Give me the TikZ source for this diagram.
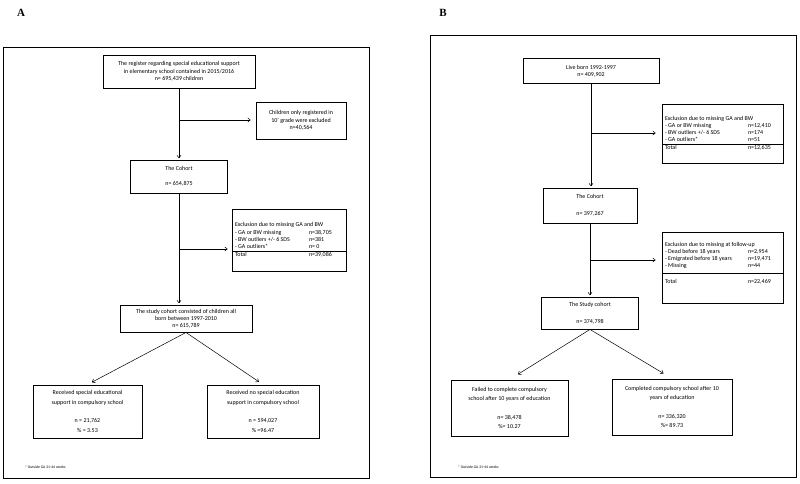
\documentclass[tikz,border=0pt]{standalone}
\usepackage{fontspec}
\setmainfont{Carlito}
\newfontfamily\labelfont{Liberation Serif}
\usetikzlibrary{arrows.meta}
\newcommand{\ft}{\fontsize{6}{7.2}\selectfont}
\newcommand{\fb}{\fontsize{6}{9.5}\selectfont}
\tikzset{box/.style={draw,line width=.9pt,align=center,font=\ft,inner sep=0pt},
  arr/.style={line width=.5pt,-{To[length=3pt,width=4.5pt]}},
  frame/.style={line width=.8pt},
  note/.style={font=\fontsize{3.8}{4}\selectfont,anchor=west,inner sep=0pt}}

\begin{document}
\begin{tikzpicture}[x=1pt,y=-1pt]
\useasboundingbox (0,0) rectangle (800,484);
\fill[white] (0,0) rectangle (800,484);
% panel A
\node[font=\labelfont\bfseries\fontsize{11}{12}\selectfont] (labA) at (21,13) {A};
\draw[frame] (3,47) rectangle (369,478);
\node[box,minimum width=152pt,minimum height=33pt] (regA) at (179,71.5) {The register regarding special educational support\\in elementary school contained in 2015/2016\\n= 695,439 children};
\node[box,minimum width=90pt,minimum height=37pt] (kidsA) at (301,120.5) {Children only registered in\\10' grade were excluded\\n=40,564};
\node[box,minimum width=97pt,minimum height=33pt] (cohA) at (179,176.5) {The Cohort\\[8pt]n= 654,875};
\node[box,minimum height=62pt] (exA) at (289,240) {\begin{tabular}{@{\hspace{3pt}}p{74pt}@{}p{37pt}@{}}
\multicolumn{2}{@{\hspace{3pt}}l@{}}{Exclusion due to missing GA and BW}\\
- GA or BW missing & n=38,705\\
- BW outliers +/- 6 SDS & n=381\\
- GA outliers* & n= 0\\ \hline
Total & n=39,086
\end{tabular}};
\node[box,minimum width=132pt,minimum height=27pt] (studyA) at (186,318.5) {The study cohort consisted of children all\\born between 1997-2010\\n= 615,789};
\node[box,font=\fb,minimum width=109pt,minimum height=53pt] (recA) at (87.5,411.5) {Received special educational\\support in compulsory school\\[9pt]n = 21,762\\\% = 3.53};
\node[box,font=\fb,minimum width=112pt,minimum height=53pt] (norecA) at (263,411.5) {Received no special education\\support in compulsory school\\[9pt]n = 594,027\\\% =96.47};
\node[note] (noteA) at (25,467) {* Outside GA 21-44 weeks};
\coordinate (brA1) at (179,120);
\coordinate (brA2) at (179,249);
\draw[arr,shorten >=1.5pt] (regA) -- (cohA);
\draw[arr,shorten >=5pt] (brA1) -- (brA1 -| kidsA.west);
\draw[arr,shorten >=1.5pt] (cohA.south) -- (cohA.south |- studyA.north);
\draw[arr,shorten >=4pt] (brA2) -- (brA2 -| exA.west);
\draw[arr,shorten >=5pt] (studyA.south) -- (recA.north);
\draw[arr,shorten >=5pt] (studyA.south) -- (norecA.north);
% panel B
\node[font=\labelfont\bfseries\fontsize{11}{12}\selectfont] (labB) at (443,13) {B};
\draw[frame] (430,35) rectangle (796,477);
\node[box,minimum width=136pt,minimum height=25pt] (liveB) at (591,71) {Live born 1992-1997\\n= 409,902};
\node[box,minimum height=59pt] (exB) at (722.5,133.5) {\begin{tabular}{@{\hspace{3pt}}p{83pt}@{}p{35pt}@{}}
\multicolumn{2}{@{\hspace{3pt}}l@{}}{Exclusion due to missing GA and BW}\\
- GA or BW missing & n=12,410\\
- BW outliers +/- 6 SDS & n=174\\
- GA outliers* & n=51\\ \hline
Total & n=12,635
\end{tabular}};
\node[box,minimum width=94pt,minimum height=35pt] (cohB) at (590,205.5) {The Cohort\\[10pt]n= 397,267};
\node[box,minimum height=71pt] (fupB) at (722.5,267.5) {\begin{tabular}{@{\hspace{3pt}}p{83pt}@{}p{35pt}@{}}
\multicolumn{2}{@{\hspace{3pt}}l@{}}{Exclusion due to missing at follow-up}\\
- Dead before 18 years & n=2,954\\
- Emigrated before 18 years & n=19,471\\
- Missing & n=44\\[3pt] \hline
\rule{0pt}{10pt}Total & n=22,469\\[8pt]
\end{tabular}};
\node[box,minimum width=97pt,minimum height=32pt] (studyB) at (590,313) {The Study cohort\\[10pt]n= 374,798};
\node[box,font=\fb,minimum width=117pt,minimum height=56pt] (failB) at (509.5,408) {Failed to complete compulsory\\school after 10 years of education\\[9pt]n= 38,478\\\%= 10.27};
\node[box,font=\fb,minimum width=120pt,minimum height=56pt] (compB) at (672,407) {Completed compulsory school after 10\\years of education\\[9pt]n= 336,320\\\%= 89.73};
\node[note] (noteB) at (458,467) {* Outside GA 21-44 weeks};
\coordinate (brB1) at (591,133);
\coordinate (brB2) at (591,260);
\draw[arr,shorten >=1.5pt] (liveB.south) -- (liveB.south |- cohB.north);
\draw[arr,shorten >=6pt] (brB1) -- (brB1 -| exB.west);
\draw[arr,shorten >=1.5pt] (cohB) -- (studyB);
\draw[arr,shorten >=6pt] (brB2) -- (brB2 -| fupB.west);
\draw[arr,shorten >=10pt] (studyB.south) -- (failB.north);
\draw[arr,shorten >=10pt] (studyB.south) -- (compB.north);
\end{tikzpicture}
\end{document}
